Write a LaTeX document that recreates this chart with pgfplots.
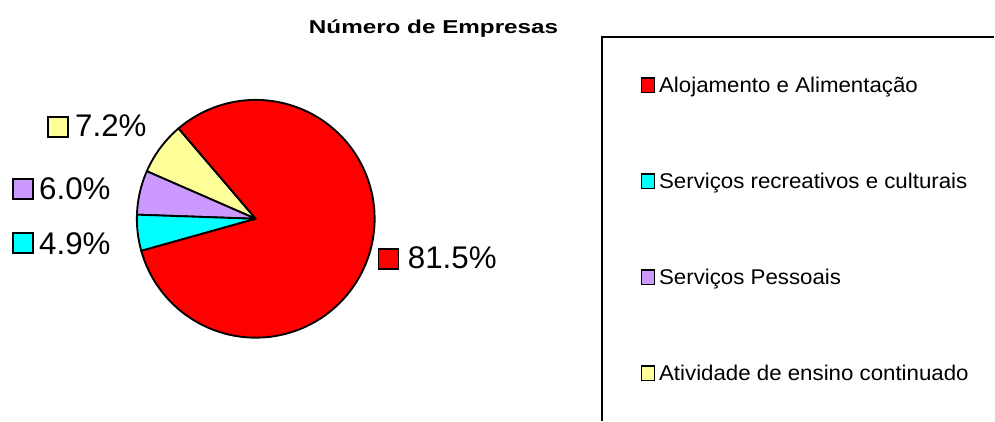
\documentclass[border=0pt]{standalone}
\usepackage{pgfplots}
\usepackage{pgfplotstable}
\pgfplotsset{compat=1.18}
\usepackage{fontspec}
\setmainfont{Liberation Sans}
\definecolor{cAlo}{HTML}{FF0000}
\definecolor{cSer}{HTML}{00FFFF}
\definecolor{cPes}{HTML}{CC99FF}
\definecolor{cAti}{HTML}{FFFF99}
\pgfplotstableread{
pct
81.5
4.9
6.0
7.2
}\piedata
\pgfplotstablegetelem{0}{pct}\of\piedata \let\vA\pgfplotsretval
\pgfplotstablegetelem{1}{pct}\of\piedata \let\vB\pgfplotsretval
\pgfplotstablegetelem{2}{pct}\of\piedata \let\vC\pgfplotsretval
\pgfplotstablegetelem{3}{pct}\of\piedata \let\vD\pgfplotsretval
\pgfmathsetmacro\aS{130.5}
\pgfmathsetmacro\aD{\aS+3.6*\vD}
\pgfmathsetmacro\aC{\aD+3.6*\vC}
\pgfmathsetmacro\aB{\aC+3.6*\vB}
\pgfmathsetmacro\aE{\aS+360}
\begin{document}
\begin{tikzpicture}
\begin{axis}[hide axis, scale only axis, width=746.25pt, height=315.75pt,
  xmin=0, xmax=995, ymin=0, ymax=421, clip=false]
\path (axis cs:0,0) rectangle (axis cs:995,421);
% pie
\def\R{89.25pt}
\filldraw[fill=cAti, line width=1.4pt, line join=round] (axis cs:256,202) -- ++(\aS:\R) arc[start angle=\aS, end angle=\aD, radius=\R] -- cycle;
\filldraw[fill=cPes, line width=1.4pt, line join=round] (axis cs:256,202) -- ++(\aD:\R) arc[start angle=\aD, end angle=\aC, radius=\R] -- cycle;
\filldraw[fill=cSer, line width=1.4pt, line join=round] (axis cs:256,202) -- ++(\aC:\R) arc[start angle=\aC, end angle=\aB, radius=\R] -- cycle;
\filldraw[fill=cAlo, line width=1.4pt, line join=round] (axis cs:256,202) -- ++(\aB:\R) arc[start angle=\aB, end angle=\aE, radius=\R] -- cycle;
% title
\node[font=\bfseries\fontsize{14pt}{16pt}\selectfont, xscale=1.3] at (axis cs:434,392) {Número de Empresas};
% data labels
\filldraw[fill=cAti, line width=1.3pt] (axis cs:48,284) rectangle (axis cs:68,304);
\node[anchor=base west, inner sep=0pt, font=\fontsize{23.5pt}{26pt}\selectfont] at (axis cs:75,284) {\vD\%};
\filldraw[fill=cPes, line width=1.3pt] (axis cs:13,222) rectangle (axis cs:33,242);
\node[anchor=base west, inner sep=0pt, font=\fontsize{23.5pt}{26pt}\selectfont] at (axis cs:39,221.7) {\vC\%};
\filldraw[fill=cSer, line width=1.3pt] (axis cs:13,168) rectangle (axis cs:33,188);
\node[anchor=base west, inner sep=0pt, font=\fontsize{23.5pt}{26pt}\selectfont] at (axis cs:39,166.7) {\vB\%};
\filldraw[fill=cAlo, line width=1.3pt] (axis cs:379,152) rectangle (axis cs:399,172);
\node[anchor=base west, inner sep=0pt, font=\fontsize{23.5pt}{26pt}\selectfont] at (axis cs:408,152.7) {\vA\%};
% legend box
\draw[line width=1.5pt] (axis cs:603,0) -- (axis cs:603,384) -- (axis cs:995,384);
\filldraw[fill=cAlo, line width=1.1pt] (axis cs:642,328.5) rectangle (axis cs:655,343);
\node[anchor=base west, inner sep=0pt, xscale=1.045, font=\fontsize{16pt}{18pt}\selectfont] at (axis cs:659.5,328.3) {Alojamento e Alimentação};
\filldraw[fill=cSer, line width=1.1pt] (axis cs:642,232.5) rectangle (axis cs:655,247);
\node[anchor=base west, inner sep=0pt, xscale=1.045, font=\fontsize{16pt}{18pt}\selectfont] at (axis cs:659.5,232.3) {Serviços recreativos e culturais};
\filldraw[fill=cPes, line width=1.1pt] (axis cs:642,136.2) rectangle (axis cs:655,150.7);
\node[anchor=base west, inner sep=0pt, xscale=1.045, font=\fontsize{16pt}{18pt}\selectfont] at (axis cs:659.5,136) {Serviços Pessoais};
\filldraw[fill=cAti, line width=1.1pt] (axis cs:642,40.2) rectangle (axis cs:655,54.7);
\node[anchor=base west, inner sep=0pt, xscale=1.045, font=\fontsize{16pt}{18pt}\selectfont] at (axis cs:659.5,40) {Atividade de ensino continuado};
\end{axis}
\end{tikzpicture}
\end{document}
